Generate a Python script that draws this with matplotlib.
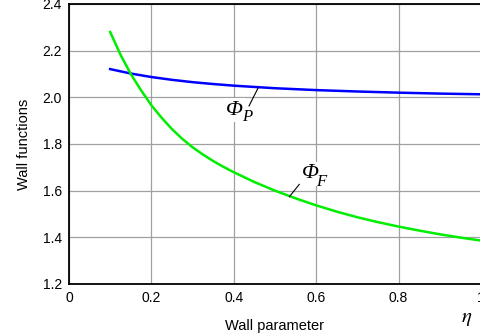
import numpy as np
import matplotlib.pyplot as plt

plt.rcParams['font.family'] = ['Liberation Sans', 'DejaVu Sans']

eta_p = [0.10, 0.15, 0.20, 0.25, 0.30, 0.35, 0.40, 0.50, 0.60, 0.70, 0.80, 0.90, 1.00]
phi_p = [2.121, 2.102, 2.087, 2.075, 2.065, 2.057, 2.050, 2.039, 2.031, 2.025, 2.020, 2.016, 2.013]

eta_f = [0.10, 0.125, 0.15, 0.175, 0.20, 0.225, 0.25, 0.275, 0.30, 0.325, 0.35, 0.375,
         0.40, 0.45, 0.50, 0.55, 0.60, 0.65, 0.70, 0.75, 0.80, 0.85, 0.90, 0.95, 1.00]
phi_f = [2.280, 2.183, 2.100, 2.030, 1.966, 1.912, 1.864, 1.822, 1.786, 1.755, 1.727, 1.702,
         1.679, 1.637, 1.600, 1.567, 1.537, 1.510, 1.486, 1.465, 1.446, 1.429, 1.413, 1.399, 1.386]

fig = plt.figure(figsize=(4.8, 3.36), dpi=100)
ax = fig.add_axes([0.1437, 0.1548, 0.8583, 0.8333])

ax.plot(eta_p, phi_p, color='#0000ff', lw=1.8, zorder=3)
ax.plot(eta_f, phi_f, color='#00ee00', lw=1.8, zorder=3)

ax.set_xlim(0, 1)
ax.set_ylim(1.2, 2.4)
ax.set_xticks([0, 0.2, 0.4, 0.6, 0.8, 1.0])
ax.set_xticklabels(['0', '0.2', '0.4', '0.6', '0.8', '1'])
ax.set_yticks([1.2, 1.4, 1.6, 1.8, 2.0, 2.2, 2.4])
ax.tick_params(length=0, labelsize=10, pad=5)
ax.grid(True, color='#a0a0a0', lw=0.9)
ax.set_axisbelow(True)
for s in ax.spines.values():
    s.set_linewidth(1.3)

ax.set_xlabel('Wall parameter', fontsize=10.5, labelpad=10)
ax.set_ylabel('Wall functions', fontsize=10.5, labelpad=8)

# curve labels with leader lines
serif = ['Liberation Serif', 'DejaVu Serif']

def curve_label(x, y, sub, off):
    ax.text(x, y, 'Φ', fontsize=16, style='italic', family=serif, ha='center', va='center',
            bbox=dict(fc='white', ec='none', pad=2), zorder=5)
    ax.annotate(sub, xy=(x, y), xytext=off, textcoords='offset points', fontsize=12,
                style='italic', family=serif, ha='center', va='center', zorder=6)

ax.plot([0.437, 0.459], [1.963, 2.040], color='black', lw=0.8, zorder=6)
curve_label(0.401, 1.945, 'P', (9, -5))
ax.plot([0.535, 0.559], [1.574, 1.627], color='black', lw=0.8, zorder=6)
curve_label(0.587, 1.672, 'F', (7.5, -6))

fig.text(0.972, 0.053, r'$\eta$', fontsize=15, ha='center', va='center',
         math_fontfamily='stix')

fig.savefig('out.png', dpi=100)
